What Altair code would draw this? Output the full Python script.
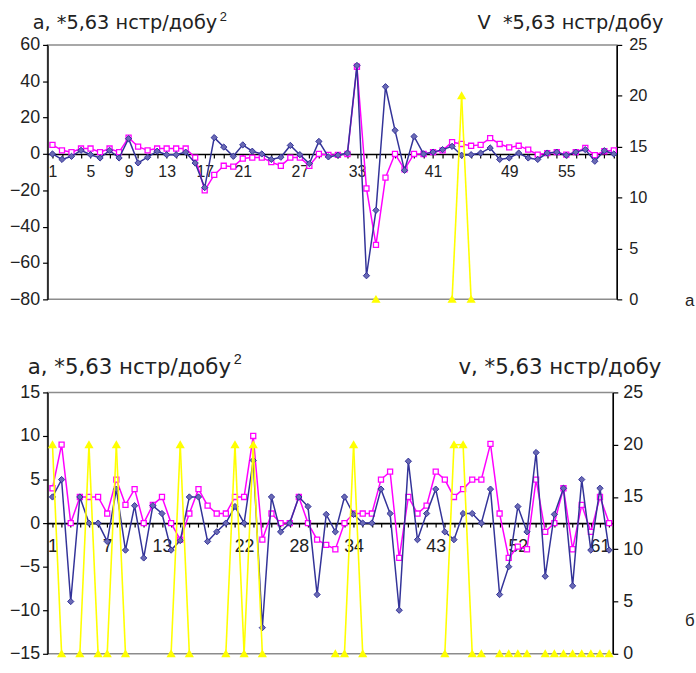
import altair as alt
import pandas as pd

# ---------------- top panel (а) ----------------
top_idx = list(range(1, 61))
top_blue = [0, -3, -1.3, 2, -0.4, -2.2, 2, -2.2, 8.4, -4.9,
            -1.8, 1.5, -0.4, -0.4, 1, -5, -18.5, 9, 3.8, -1.3,
            5, 1.5, 0, -3, -1.8, 4.7, -0.4, -5.3, 6.9, -1.6,
            -0.7, 0.5, 48.7, -67, -31, 37, 13, -9, 9.6, 0,
            1, 2.4, 4.2, -0.7, -0.4, 0.5, 3.3, -3, -2.2, 0.5,
            -2.2, -3, 0.5, 1, -0.7, 1, 2.4, -4, 1.8, 0]
top_magenta = [5, 2, 1, 3, 3, 1, 3, 1, 9, 4,
               2, 3, 3, 3, 3, -2, -20, -11.5, -6.5, -7,
               -2.5, -2, -2, -4.5, -6.5, -2, -2, -6.5, 0, -0.5,
               -0.5, 0, 48, -19, -50, -13, 0, -8.5, 0, 0,
               1, 2, 6.5, 5.5, 4.5, 5, 8.7, 5.5, 3.6, 4.5,
               2.4, -0.4, 0.5, 1, -0.4, 1, 3.3, -0.7, 1.5, 2]
top_yellow_idx = [35, 43, 44, 45]
top_yellow = [0, 0, 20, 0]
top_labels = [1, 5, 9, 13, 17, 21, 27, 33, 41, 49, 55]

# ---------------- bottom panel (б) ----------------
bot_idx = list(range(1, 63))
bot_blue = [3, 5, -9, 3, 0, 0, -2.1, 3.9, -3.1, 2,
            -4, 2, 1.1, -3.1, -2, 3, 3, -2.1, -1, 0,
            1.9, 0, 7.2, -12, 3, -1, 0, 3, 1.9, -8.2,
            1, -1, 3, 1, 0, 0, 3.9, 1.1, -10, 7.1,
            -1.9, 1.1, 3.9, -1, -1.9, 1.1, 1.1, 0, 3.9, -8.2,
            -5, 1.9, -1, 8.1, -6.1, 1, 4, -7.2, 5, -3.1,
            4, -3.1]
bot_magenta = [4, 9, 0, 3, 3, 3, 1.1, 5, 2.1, 3.9,
               0, 2.1, 3, 0, -1.9, 1.1, 3.9, 2, 1.1, 1.1,
               3, 3, 10, -1.9, 1.1, 0, 0, 3, 0, -1.9,
               -2.5, -3, 0, 1.1, 1.1, 1.1, 5, 5.9, -4, 3,
               1.1, 2, 5.9, 5, 3, 3.9, 5, 5, 9.1, 1.1,
               -4, -2.7, -3, 5, -1, 0, 4, -3, 2.1, -1,
               3, 0]
bot_yellow_idx = [1, 2, 4, 5, 6, 7, 8, 9, 14, 15, 16, 20, 21, 22, 23, 24,
                  32, 33, 34, 35, 44, 45, 46, 47, 48, 50, 51, 52, 53,
                  55, 56, 57, 58, 59, 60, 61, 62]
bot_yellow = [20, 0, 0, 20, 0, 0, 20, 0, 0, 20, 0, 0, 20, 0, 20, 0,
              0, 0, 20, 0, 0, 20, 20, 0, 0, 0, 0, 0, 0,
              0, 0, 0, 0, 0, 0, 0, 0]
bot_labels = [1, 7, 13, 22, 28, 34, 43, 52, 61]

BLUE = "#333399"
BLUE_FILL = "#6a6ab4"
MAG = "#ff00ff"
YEL = "#ffff00"
TXT = "#222222"
one = pd.DataFrame({"d": [0]})


def text(t, x, y, size, align="left", font="DejaVu Sans"):
    return alt.Chart(one).mark_text(
        text=t, fontSize=size, align=align, baseline="alphabetic",
        font=font, color=TXT
    ).encode(x=alt.value(x), y=alt.value(y))


def yellow_segments(idx, vals):
    # each rising / falling stroke of the V series is one segment; runs that
    # stay on zero lie on the plot frame and are hidden by it in the original
    rows = []
    for k in range(len(idx) - 1):
        if vals[k] != 0 or vals[k + 1] != 0:
            rows.append({"i": idx[k], "v": vals[k], "seg": k})
            rows.append({"i": idx[k + 1], "v": vals[k + 1], "seg": k})
    return pd.DataFrame(rows)


def panel(idx, blue, mag, yidx, yv, adom, asteps, xdom, labels, W, H,
          lab_fs, xlab_fs, rlab_fs, xlab_pad, rlab_pad, titles):
    df = pd.DataFrame({"i": idx, "blue": blue, "mag": mag})
    dy = pd.DataFrame({"i": yidx, "v": yv})
    dseg = yellow_segments(yidx, yv)
    zero_off = -(H * (0 - adom[0]) / (adom[1] - adom[0]))
    lab_expr = "indexof(%s, datum.value) >= 0 ? datum.label : ''" % str(labels)
    xscale = alt.Scale(domain=xdom, nice=False, zero=False)
    xaxis = alt.Axis(values=idx, labelExpr=lab_expr, orient="bottom",
                     offset=zero_off, tickSize=4, labelPadding=xlab_pad,
                     labelFontSize=xlab_fs, labelOverlap=False, labelFlush=False,
                     labelBound=False, domainColor="black", tickColor="black",
                     domainWidth=1.6, tickWidth=1.2, title=None, grid=False,
                     labelColor=TXT)
    ascale = alt.Scale(domain=adom, nice=False, zero=False)
    aaxis = alt.Axis(values=asteps, orient="left", tickSize=5, labelPadding=3,
                     labelFontSize=lab_fs, domainColor="black", tickColor="black",
                     domainWidth=1.4, tickWidth=1.2, title=None, grid=False,
                     labelColor=TXT, labelFlush=False)
    X = alt.X("i:Q", scale=xscale, axis=xaxis)
    base = alt.Chart(df)
    mag_line = base.mark_line(color=MAG, strokeWidth=1.5).encode(
        x=X, y=alt.Y("mag:Q", scale=ascale, axis=aaxis))
    mag_pts = base.mark_point(shape="square", size=26, filled=False, fill="white",
                              fillOpacity=1, stroke=MAG, strokeWidth=1.3,
                              opacity=1).encode(
        x=X, y=alt.Y("mag:Q", scale=ascale, axis=aaxis))
    blue_line = base.mark_line(color=BLUE, strokeWidth=1.5).encode(
        x=X, y=alt.Y("blue:Q", scale=ascale, axis=aaxis))
    blue_pts = base.mark_point(shape="diamond", size=40, filled=True, fill=BLUE_FILL,
                               stroke=BLUE, strokeWidth=1, opacity=1).encode(
        x=X, y=alt.Y("blue:Q", scale=ascale, axis=aaxis))
    left = alt.layer(mag_line, mag_pts, blue_line, blue_pts)

    vscale = alt.Scale(domain=[0, 25], nice=False, zero=False)
    vaxis = alt.Axis(values=[0, 5, 10, 15, 20, 25], orient="right", tickSize=5,
                     labelPadding=rlab_pad, labelFontSize=rlab_fs, domainColor="black",
                     tickColor="black", domainWidth=1.4, tickWidth=1.2,
                     title=None, grid=False, labelColor=TXT, labelFlush=False)
    yel_line = alt.Chart(dseg).mark_line(color=YEL, strokeWidth=1.6).encode(
        x=X, y=alt.Y("v:Q", scale=vscale, axis=vaxis), detail="seg:N")
    yel_pts = alt.Chart(dy).mark_point(shape="triangle-up", size=34, filled=True,
                                       fill=YEL, stroke=YEL, opacity=1).encode(
        x=X, y=alt.Y("v:Q", scale=vscale, axis=vaxis))
    right = alt.layer(yel_line, yel_pts, *titles)

    return alt.layer(left, right).resolve_scale(y="independent").properties(
        width=W, height=H)


top_titles = [
    text("a, *5,63 нстр/добу", -15, -16, 19.5),
    text("2", 174, -24, 13, font="Liberation Sans"),
    text("V\u00a0\u00a0*5,63 нстр/добу", 622, -16, 19.5, align="right"),
    text("а", 644, 264, 17, font="Liberation Sans"),
]
bot_titles = [
    text("a, *5,63 нстр/добу", -20, -19, 21.5),
    text("2", 188, -29, 14.5, font="Liberation Sans"),
    text("v, *5,63 нстр/добу", 620, -19, 21.5, align="right"),
    text("б", 644, 236, 17, font="Liberation Sans"),
]

top = panel(top_idx, top_blue, top_magenta, top_yellow_idx, top_yellow,
            [-80, 60], list(range(-80, 61, 20)), [0.48, 60.31], top_labels,
            575, 257, 18, 16, 16.5, 6, 7, top_titles)
bot = panel(bot_idx, bot_blue, bot_magenta, bot_yellow_idx, bot_yellow,
            [-15, 15], list(range(-15, 16, 5)), [0.457, 62.41], bot_labels,
            571, 264, 18, 18, 18, 11, 5, bot_titles)

chart = alt.vconcat(
    top, bot, spacing=94, bounds="flush"
).properties(
    padding={"left": 8, "top": 7, "right": 0, "bottom": 3}, background="white"
).configure_view(stroke="#8c8c8c", strokeWidth=1.5).configure_axis(
    labelFont="Liberation Sans")

chart.save("out.html", embed_options={"renderer": "svg", "actions": False})
